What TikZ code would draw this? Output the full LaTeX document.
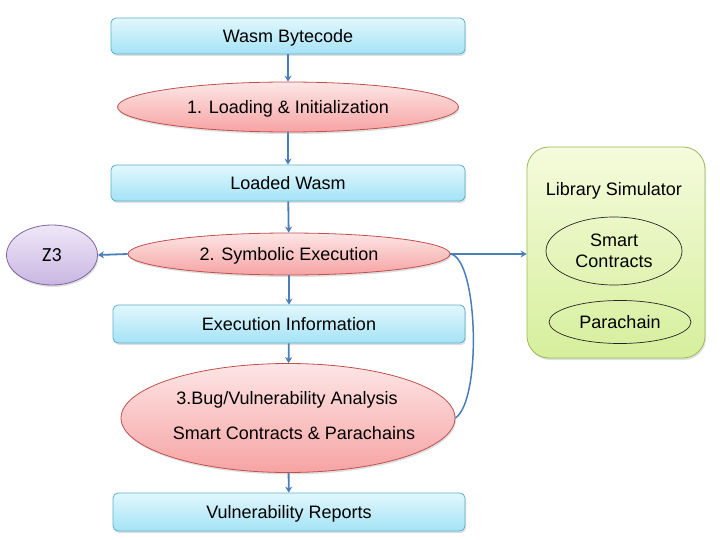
\documentclass[tikz,border=0pt]{standalone}
\usepackage{fontspec}
\setmainfont{Liberation Sans}
\newfontfamily\califont{Carlito}
\usetikzlibrary{shapes.geometric,arrows.meta,shadows}
\definecolor{arrowc}{HTML}{4A7EBB}
\definecolor{boxtop}{HTML}{E2F7FD}
\definecolor{boxbot}{HTML}{A4E3F6}
\definecolor{boxline}{HTML}{5AAFCB}
\definecolor{redtop}{HTML}{FDE6E6}
\definecolor{redbot}{HTML}{F7A3A3}
\definecolor{redline}{HTML}{C0504D}
\definecolor{purtop}{HTML}{EFE8F8}
\definecolor{purbot}{HTML}{C9B6E2}
\definecolor{purline}{HTML}{8064A2}
\definecolor{grntop}{HTML}{F5FBDC}
\definecolor{grnbot}{HTML}{D6EF9C}
\definecolor{grnline}{HTML}{9BBB59}
\tikzset{
  shade/.style={drop shadow={opacity=0.25,shadow xshift=1pt,shadow yshift=-2pt}},
  bluebox/.style={rectangle, rounded corners=5pt, draw=boxline, line width=0.8pt,
    top color=boxtop, bottom color=boxbot, minimum width=354pt, minimum height=36pt,
    inner sep=0pt, text depth=0pt, shade},
  redell/.style={ellipse, draw=redline, line width=0.8pt, top color=redtop,
    bottom color=redbot, inner sep=0pt, text depth=0pt, shade},
  conn/.style={draw=arrowc, line width=1.8pt, -{Stealth[length=6pt,width=7pt]}},
  thinell/.style={ellipse, draw=black!85, line width=0.7pt, inner sep=0pt, align=center},
  plaintext/.style={text depth=0pt}
}
\begin{document}
\begin{tikzpicture}[x=1pt,y=-1pt,font=\fontsize{18}{21}\selectfont]
\useasboundingbox (0,0) rectangle (720,540);
\node[bluebox] (b1) at (288,36) {Wasm Bytecode};
\node[redell, minimum width=341pt, minimum height=50pt] (e1) at (288,107) {1. Loading \& Initialization};
\node[bluebox] (b2) at (288,183) {Loaded Wasm};
\node[redell, minimum width=322pt, minimum height=42pt] (e2) at (289,254) {2. Symbolic Execution};
\node[bluebox, minimum width=352pt, minimum height=38pt] (b3) at (289,324) {Execution Information};
\node[redell, minimum width=334pt, minimum height=109pt] (e3) at (288,418) {};
\node[plaintext] (e3a) at (287,398) {3.Bug/Vulnerability Analysis};
\node[plaintext] (e3b) at (294,433) {Smart Contracts \& Parachains};
\node[bluebox, minimum width=352pt, minimum height=38pt] (b4) at (289,512) {Vulnerability Reports};
\node[ellipse, draw=purline, line width=0.8pt, top color=purtop, bottom color=purbot,
  minimum width=91pt, minimum height=60pt, inner sep=0pt, text depth=0pt, shade, font=\califont\fontsize{20}{22}\selectfont] (z3) at (52,255) {Z3};
\node[rectangle, rounded corners=22pt, draw=grnline, line width=0.8pt, top color=grntop,
  bottom color=grnbot, minimum width=178pt, minimum height=211pt, shade] (lib) at (616,252.5) {};
\node[plaintext] (libt) at (614,189) {Library Simulator};
\node[thinell, minimum width=136pt, minimum height=68pt] (sc) at (614,251) {Smart\\Contracts};
\node[thinell, minimum width=142pt, minimum height=43pt, text depth=0pt] (pc) at (620,322) {Parachain};
\draw[conn] (b1) -- (e1);
\draw[conn] (e1) -- (b2);
\draw[conn] (b2) -- (e2);
\draw[conn] (e2) -- (b3);
\draw[conn] (b3) -- (e3);
\draw[conn] (e3) -- (b4);
\draw[conn] (e2.west) -- (z3.east);
\draw[conn] (e2.east) -- (lib.west |- e2.east);
\draw[draw=arrowc, line width=1.5pt] (e2.east) .. controls (478,258) and (482,400) .. (e3.east);
\end{tikzpicture}
\end{document}
